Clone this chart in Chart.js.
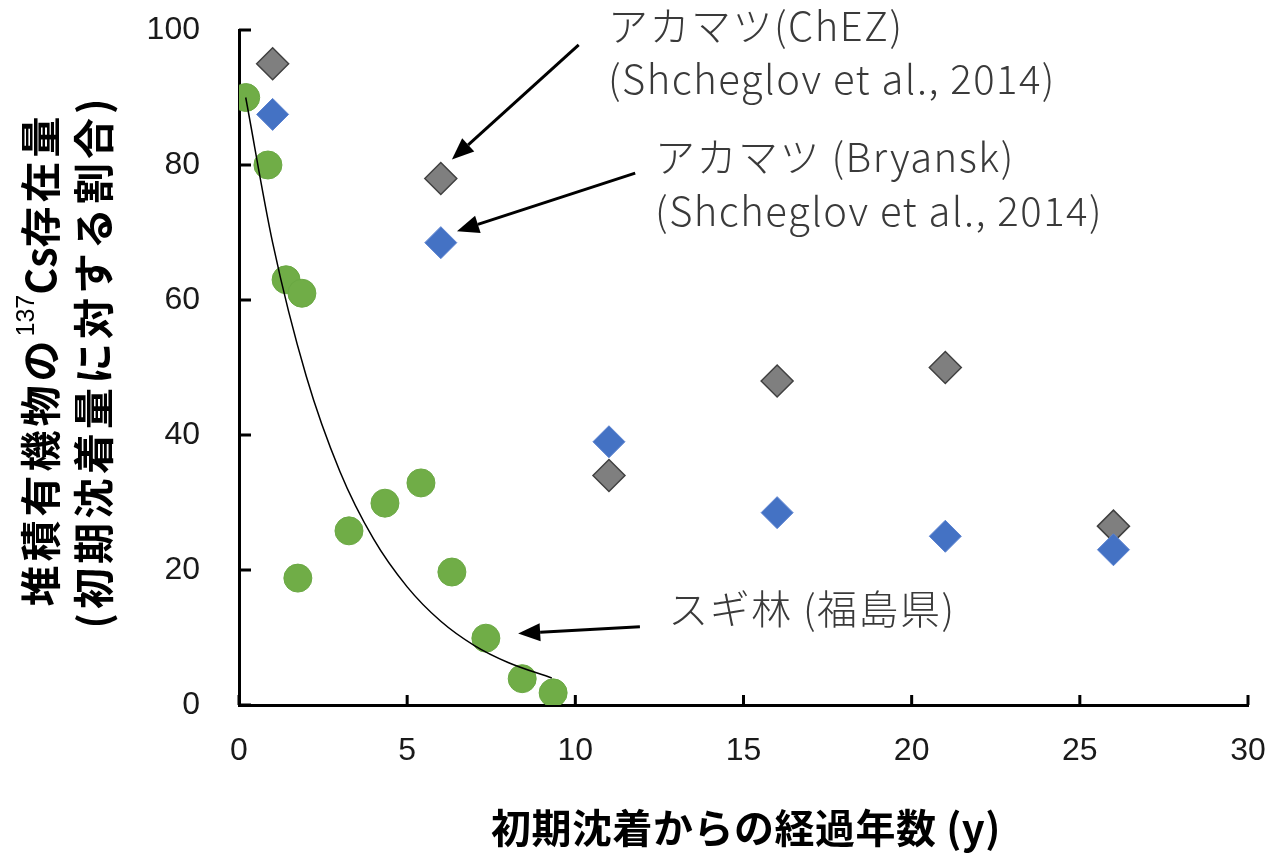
<!DOCTYPE html>
<html>
<head>
<meta charset="utf-8">
<script src="https://cdn.jsdelivr.net/npm/chart.js@4.4.1/dist/chart.umd.min.js"></script>
<style>
  body { margin: 0; background: #fff; }
  #wrap { width: 1273px; height: 853px; }
</style>
</head>
<body>
<div id="wrap"><canvas id="chart" width="1273" height="853"></canvas></div>
<script>
// スギ林 (福島県)
var sugiX = [0.2, 0.86, 1.4, 1.87, 1.75, 3.27, 4.34, 5.41, 6.33, 7.34, 8.42, 9.34];
var sugiY = [90, 80, 63, 61, 18.8, 25.8, 29.9, 32.9, 19.7, 9.9, 3.9, 1.8];
// アカマツ (ChEZ)
var chezX = [1, 6, 11, 16, 21, 26];
var chezY = [95, 78, 34, 48, 50, 26.5];
// アカマツ (Bryansk)
var bryX = [1, 6, 11, 16, 21, 26];
var bryY = [87.5, 68.5, 39, 28.5, 25, 23];
// fitted curve
var fitX = [0.2, 1, 2, 3, 4, 5, 6, 7, 8, 9.3];
var fitY = [90, 68.5, 48.7, 34.6, 24.6, 17.5, 12.4, 8.8, 6.3, 4];

var xTicks = [0, 5, 10, 15, 20, 25, 30];
var yTicks = [0, 20, 40, 60, 80, 100];

var toPts = (xs, ys) => xs.map((x, i) => ({ x: x, y: ys[i] }));

// annotation texts (data coords)
var notes = [
  { text: 'アカマツ(ChEZ)', x: 10.97, y: 100.6 },
  { text: '(Shcheglov et al., 2014)', x: 10.97, y: 92.8 },
  { text: 'アカマツ (Bryansk)', x: 12.37, y: 81.2 },
  { text: '(Shcheglov et al., 2014)', x: 12.37, y: 73.2 },
  { text: 'スギ林 (福島県)', x: 12.76, y: 14.3 }
];
// arrows: from -> tip
var arrows = [
  { x0: 10.1, y0: 97.8, x1: 6.33, y1: 80.8 },
  { x0: 11.78, y0: 78.8, x1: 6.48, y1: 70.2 },
  { x0: 11.92, y0: 11.6, x1: 8.3, y1: 10.6 }
];

var tickFont = { family: 'Liberation Sans, Arial, sans-serif', size: 32 };

var decor = {
  id: 'decor',
  afterDraw: (chart) => {
    let ctx = chart.ctx;
    let xs = chart.scales.x, ys = chart.scales.y;
    let area = chart.chartArea;
    ctx.save();

    // inner tick marks
    ctx.strokeStyle = '#000';
    ctx.lineWidth = 3;
    ctx.beginPath();
    yTicks.forEach(v => {
      let py = ys.getPixelForValue(v);
      ctx.moveTo(area.left, py);
      ctx.lineTo(area.left + 12, py);
    });
    xTicks.forEach(v => {
      let px = xs.getPixelForValue(v);
      ctx.moveTo(px, area.bottom);
      ctx.lineTo(px, area.bottom - 10);
    });
    ctx.stroke();

    // arrows
    ctx.fillStyle = '#000';
    ctx.lineWidth = 3;
    arrows.forEach(a => {
      let x0 = xs.getPixelForValue(a.x0), y0 = ys.getPixelForValue(a.y0);
      let x1 = xs.getPixelForValue(a.x1), y1 = ys.getPixelForValue(a.y1);
      let ang = Math.atan2(y1 - y0, x1 - x0);
      let hl = 22, hw = 9;
      let bx = x1 - hl * Math.cos(ang), by = y1 - hl * Math.sin(ang);
      ctx.beginPath();
      ctx.moveTo(x0, y0);
      ctx.lineTo(bx, by);
      ctx.stroke();
      ctx.beginPath();
      ctx.moveTo(x1, y1);
      ctx.lineTo(bx + hw * Math.sin(ang), by - hw * Math.cos(ang));
      ctx.lineTo(bx - hw * Math.sin(ang), by + hw * Math.cos(ang));
      ctx.closePath();
      ctx.fill();
    });

    // annotation text
    ctx.fillStyle = '#3a3a3a';
    ctx.font = '300 40px "Noto Sans CJK JP", sans-serif';
    ctx.letterSpacing = '1.5px';
    ctx.textAlign = 'left';
    ctx.textBaseline = 'middle';
    notes.forEach(n => {
      ctx.fillText(n.text, xs.getPixelForValue(n.x), ys.getPixelForValue(n.y));
    });
    ctx.letterSpacing = '0px';

    // x title
    ctx.fillStyle = '#000';
    ctx.font = 'bold 40px "Noto Sans CJK JP", sans-serif';
    ctx.letterSpacing = '0.5px';
    ctx.textAlign = 'center';
    ctx.fillText('初期沈着からの経過年数 (y)', 746, 828);

    // y title, two rotated lines, with superscript 137
    let cy = (area.top + area.bottom) / 2;
    let big = 'bold 41px "Noto Sans CJK JP", sans-serif';
    let sup = '25px "Liberation Sans", Arial, sans-serif';
    let parts = [
      { t: '堆積有機物の', f: big, dy: 0, sp: 4 },
      { t: '137', f: sup, dy: -13, sp: 0 },
      { t: 'Cs', f: big, dy: 0, sp: 0 },
      { t: '存在量', f: big, dy: 0, sp: 4 }
    ];
    let total = 0;
    parts.forEach(p => {
      ctx.font = p.f;
      ctx.letterSpacing = p.sp + 'px';
      p.w = ctx.measureText(p.t).width;
      total += p.w;
    });
    ctx.save();
    ctx.translate(40, cy);
    ctx.rotate(-Math.PI / 2);
    ctx.textAlign = 'left';
    let cx = -total / 2 + 8;
    parts.forEach(p => {
      ctx.font = p.f;
      ctx.letterSpacing = p.sp + 'px';
      ctx.fillText(p.t, cx, p.dy);
      cx += p.w;
    });
    ctx.restore();

    ctx.save();
    ctx.translate(93, cy);
    ctx.rotate(-Math.PI / 2);
    ctx.font = big;
    ctx.letterSpacing = '4px';
    ctx.textAlign = 'center';
    ctx.fillText('(初期沈着量に対する割合)', 6, 0);
    ctx.restore();
    ctx.letterSpacing = '0px';

    ctx.restore();
  }
};

var ctx = document.getElementById('chart');
var myChart = new Chart(ctx, {
  type: 'scatter',
  data: {
    datasets: [
      {
        label: 'fit',
        data: toPts(fitX, fitY),
        showLine: true,
        borderColor: '#000',
        borderWidth: 1.5,
        pointRadius: 0,
        cubicInterpolationMode: 'monotone',
        order: 0
      },
      {
        label: 'スギ林 (福島県)',
        data: toPts(sugiX, sugiY),
        pointStyle: 'circle',
        pointRadius: 14,
        backgroundColor: '#70ad47',
        borderColor: '#6aa843',
        borderWidth: 1,
        order: 1
      },
      {
        label: 'アカマツ (Bryansk)',
        data: toPts(bryX, bryY),
        pointStyle: 'rectRot',
        pointRadius: 16,
        backgroundColor: '#4472c4',
        borderColor: '#5b82d0',
        borderWidth: 1,
        order: 2
      },
      {
        label: 'アカマツ(ChEZ)',
        data: toPts(chezX, chezY),
        pointStyle: 'rectRot',
        pointRadius: 16,
        backgroundColor: '#7f7f7f',
        borderColor: '#404040',
        borderWidth: 1.5,
        order: 3
      }
    ]
  },
  options: {
    responsive: false,
    animation: false,
    devicePixelRatio: 1,
    layout: { padding: { top: 30, right: 25, left: 0, bottom: 0 } },
    plugins: {
      legend: { display: false },
      tooltip: { enabled: false }
    },
    scales: {
      x: {
        type: 'linear',
        min: 0,
        max: 30,
        afterFit: (s) => { s.height = 148; s.paddingLeft = 0; s.paddingRight = 0; },
        afterBuildTicks: (s) => { s.ticks = xTicks.map(v => ({ value: v })); },
        ticks: { font: tickFont, color: '#1a1a1a', padding: 19, maxRotation: 0 },
        grid: { display: false },
        border: { display: true, color: '#000', width: 3 }
      },
      y: {
        type: 'linear',
        min: 0,
        max: 100,
        afterFit: (s) => { s.width = 239; s.paddingTop = 0; s.paddingBottom = 0; },
        afterBuildTicks: (s) => { s.ticks = yTicks.map(v => ({ value: v })); },
        ticks: { font: tickFont, color: '#1a1a1a', padding: 31 },
        grid: { display: false },
        border: { display: true, color: '#000', width: 3 }
      }
    }
  },
  plugins: [decor]
});
</script>
</body>
</html>
